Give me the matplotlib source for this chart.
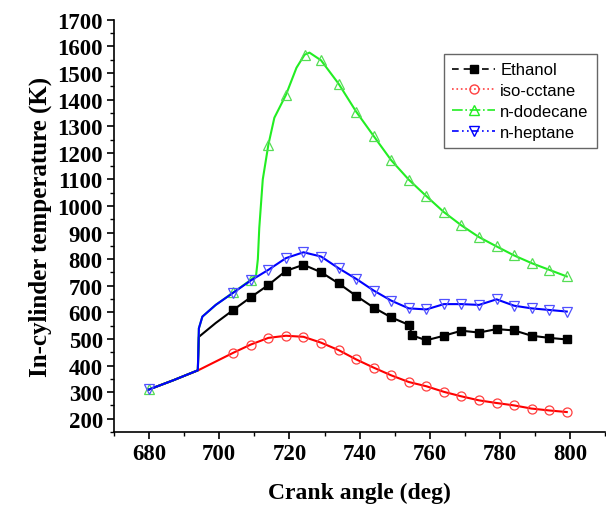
import numpy as np
import matplotlib.pyplot as plt
from matplotlib.lines import Line2D
from matplotlib.ticker import MultipleLocator

# Crank angle (deg) / temperature (K)
ca_ethanol = [680, 687, 693.9, 694.2, 699, 704, 709, 714, 719, 724, 729, 734, 739, 744,
              749, 754, 755, 759, 764, 769, 774, 779, 784, 789, 794, 799]
t_ethanol = [310, 345, 382, 508, 560, 609, 657, 703, 756, 779, 751, 709, 662, 618,
             581, 553, 513, 495, 512, 531, 524, 537, 532, 512, 504, 498]
mk_ethanol = list(range(5, len(ca_ethanol)))

ca_iso = [680, 687, 694, 699, 704, 709, 714, 719, 724, 729, 734, 739, 744, 749,
          754, 759, 764, 769, 774, 779, 784, 789, 794, 799]
t_iso = [310, 345, 382, 415, 448, 479, 504, 512, 508, 486, 458, 423, 392, 363,
         338, 322, 301, 284, 269, 259, 250, 238, 231, 225]
mk_iso = list(range(4, len(ca_iso)))

ca_dodec = [680, 687, 693.9, 694.2, 695.2, 699, 704, 709, 710.5, 711.0, 711.4, 712.4,
            714, 715.7, 719, 722, 724.3, 725.7, 729, 734, 739, 744, 749, 754, 759,
            764, 769, 774, 779, 784, 789, 794, 799]
t_dodec = [310, 345, 382, 540, 584, 628, 675, 722, 740, 800, 917, 1100,
           1231, 1332, 1418, 1520, 1569, 1577, 1548, 1460, 1355, 1263, 1172, 1099, 1037,
           977, 927, 883, 848, 814, 785, 760, 735]
mk_dodec = [0, 6, 7, 12, 14, 16] + list(range(18, len(ca_dodec)))

ca_hept = [680, 687, 693.9, 694.2, 695.2, 699, 704, 709, 714, 719, 724, 729, 734, 739,
           744, 749, 754, 759, 764, 769, 774, 779, 784, 789, 794, 799]
t_hept = [310, 345, 382, 540, 584, 628, 674, 720, 760, 804, 826, 810, 766, 726,
          682, 644, 615, 611, 631, 631, 628, 649, 625, 615, 609, 603]
mk_hept = [0] + list(range(6, len(ca_hept)))

serif = 'Liberation Serif'

fig = plt.figure(figsize=(6.06, 5.10), dpi=100)
ax = fig.add_axes([0.188, 0.151, 0.811, 0.808])

ax.plot(ca_iso, t_iso, color='#ff0000', lw=1.5, marker='o', ms=6.5, mfc='none',
        mec='#ff4040', mew=0.9, markevery=mk_iso)
ax.plot(ca_ethanol, t_ethanol, color='black', lw=1.5, marker='s', ms=5.5,
        mfc='black', mec='black', markevery=mk_ethanol)
ax.plot(ca_dodec, t_dodec, color='#22ee22', lw=1.5, marker='^', ms=7, mfc='none',
        mec='#55dd55', mew=0.9, markevery=mk_dodec)
ax.plot(ca_hept, t_hept, color='#0000ff', lw=1.5, marker='v', ms=7, mfc='none',
        mec='#5050ff', mew=0.9, markevery=mk_hept)

ax.set_xlim(670, 810)
ax.set_ylim(150, 1700)
ax.xaxis.set_minor_locator(MultipleLocator(10))
ax.yaxis.set_minor_locator(MultipleLocator(50))
ax.set_yticks(np.arange(200, 1701, 100))
ax.set_xticks(np.arange(680, 801, 20))
ax.tick_params(which='major', direction='out', length=5, width=1.2, pad=3)
ax.tick_params(which='minor', direction='out', length=3, width=1.0)
for lab in ax.get_xticklabels() + ax.get_yticklabels():
    lab.set_fontfamily(serif)
    lab.set_fontweight('bold')
    lab.set_fontsize(16.5)
ax.spines['top'].set_visible(False)
ax.spines['right'].set_visible(False)
ax.spines['left'].set_linewidth(1.2)
ax.spines['bottom'].set_linewidth(1.2)

ax.set_xlabel('Crank angle (deg)', fontfamily=serif, fontweight='bold', fontsize=17,
              labelpad=13)
ax.set_ylabel('In-cylinder temperature (K)', fontfamily=serif, fontweight='bold',
              fontsize=18, labelpad=4)

handles = [
    Line2D([], [], color='black', lw=1.2, ls=(0, (4, 3, 4, 3, 1, 3)), marker='s',
           ms=5.5, mfc='black'),
    Line2D([], [], color='#ff4040', lw=1.2, ls=':', marker='o', ms=6.5, mfc='none'),
    Line2D([], [], color='#22ee22', lw=1.2, ls='-.', marker='^', ms=7, mfc='none'),
    Line2D([], [], color='#0000ff', lw=1.2, ls=(0, (4, 2, 1, 2, 1, 2)), marker='v',
           ms=7, mfc='none'),
]
labels = ['Ethanol', 'iso-cctane', 'n-dodecane', 'n-heptane']
leg = ax.legend(handles, labels, loc='upper right', bbox_to_anchor=(0.983, 0.917),
                borderaxespad=0,
                prop={'family': 'Liberation Sans', 'size': 12}, fancybox=False,
                edgecolor='#666666', handlelength=2.6, handletextpad=0.3,
                labelspacing=0.35, borderpad=0.5, framealpha=1)
leg.get_frame().set_linewidth(1.0)

fig.savefig('out.png', dpi=100)
